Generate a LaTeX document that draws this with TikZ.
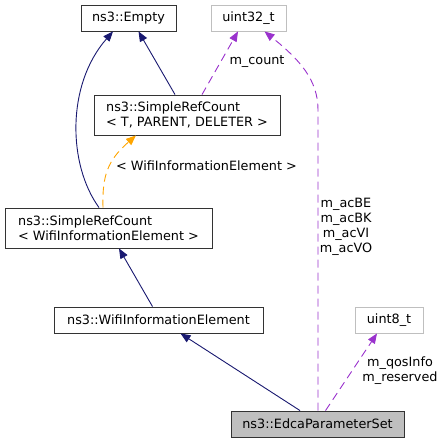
\documentclass[tikz,border=0pt]{standalone}
\usepackage{fontspec}
\setmainfont{DejaVu Sans}
\usetikzlibrary{arrows.meta}
\definecolor{navyedge}{HTML}{191970}
\definecolor{purpedge}{HTML}{9A32CD}
\definecolor{orangeedge}{HTML}{FFA500}
\definecolor{graybord}{HTML}{BFBFBF}
\definecolor{edcafill}{HTML}{BFBFBF}
\tikzset{
  box/.style={draw=black!80, line width=0.9pt, inner sep=0pt, anchor=center, font=\fontsize{12.8}{15}\selectfont},
  graybox/.style={box, draw=graybord},
  lbl/.style={inner sep=0pt, anchor=center, align=center, font=\fontsize{12.8}{15}\selectfont},
  inh/.style={navyedge, line width=0.9pt, -{Triangle[length=10pt,width=8pt]}},
  usage/.style={purpedge, line width=0.9pt, dash pattern=on 8pt off 5pt, -{Triangle[length=10pt,width=8pt]}},
  tmpl/.style={orangeedge, line width=0.9pt, dash pattern=on 8pt off 5pt, -{Triangle[length=10pt,width=8pt]}},
}
\begin{document}
\begin{tikzpicture}[x=1pt,y=-1pt]
\useasboundingbox (0,0) rectangle (443,443);
% nodes
\node[box, minimum width=95pt, minimum height=26pt] (empty) at (128.5,18) {ns3::Empty};
\node[graybox, minimum width=75pt, minimum height=26pt] (u32) at (248.5,18) {uint32\_t};
\node[box, minimum width=186pt, minimum height=40pt, align=left] (srcT) at (187,115) {ns3::SimpleRefCount\\< T, PARENT, DELETER >};
\node[box, minimum width=207pt, minimum height=40pt, align=left] (srcW) at (108.5,228) {ns3::SimpleRefCount\\< WifiInformationElement >};
\node[box, minimum width=209pt, minimum height=26pt] (wie) at (158.5,320) {ns3::WifiInformationElement};
\node[graybox, minimum width=68pt, minimum height=26pt] (u8) at (389,320) {uint8\_t};
\node[box, fill=edcafill, minimum width=173pt, minimum height=26pt] (edca) at (317.5,424) {ns3::EdcaParameterSet};
\coordinate (bend) at (318,110);
% edges
\draw[inh] ([xshift=-9.5pt]srcW.north) .. controls (68,165) and (66,85) .. ([xshift=-15.5pt]empty.south);
\draw[inh] ([xshift=-12pt]srcT.north) -- ([xshift=10pt]empty.south);
\draw[usage] ([xshift=15pt]srcT.north) -- ([xshift=-10.5pt]u32.south);
\draw[tmpl] ([xshift=-5.5pt]srcW.north) .. controls (102,175) and (108,160) .. ([xshift=-51pt]srcT.south);
\draw[inh] ([xshift=-6pt]wie.north) -- ([xshift=10.5pt]srcW.south);
\draw[inh] ([xshift=-17.5pt]edca.north) -- ([xshift=22pt]wie.south);
\draw[usage] ([xshift=0.5pt]edca.north) -- (bend) .. controls (318,80) and (300,60) .. ([xshift=16pt]u32.south);
\draw[usage] ([xshift=8pt]edca.north) -- ([xshift=-12pt]u8.south);
% labels
\node[lbl] (lcount) at (257,62) {m\_count};
\node[lbl] (ltmpl) at (206.5,166) {< WifiInformationElement >};
\node[lbl] (lac) at (346,227) {m\_acBE\\m\_acBK\\m\_acVI\\m\_acVO};
\node[lbl] (lqos) at (400,371) {m\_qosInfo\\m\_reserved};
\end{tikzpicture}
\end{document}
